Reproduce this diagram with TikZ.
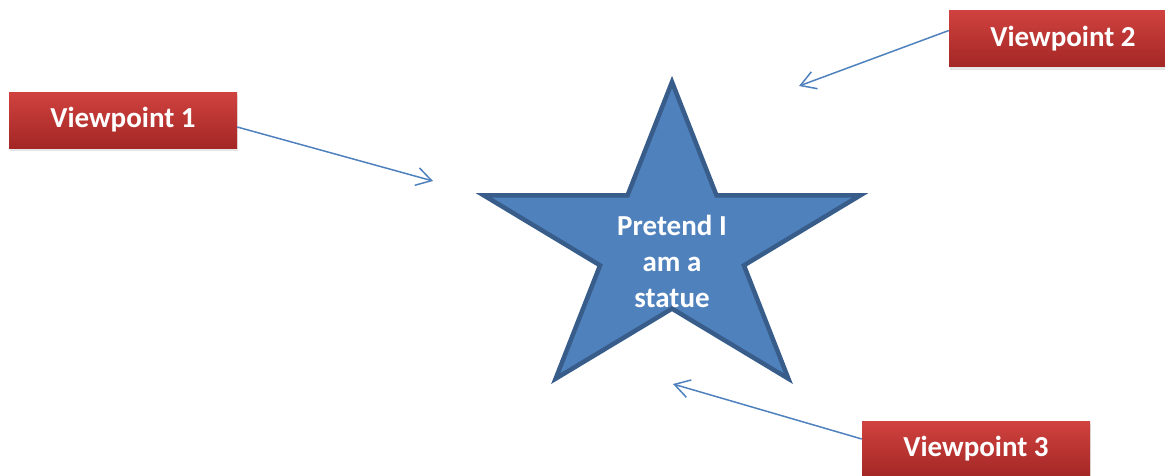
\documentclass[tikz,border=0pt]{standalone}
\usepackage{fontspec}
\setmainfont{Carlito}
\usetikzlibrary{arrows.meta,shadows}
\definecolor{boxtop}{RGB}{208,66,63}
\definecolor{boxbot}{RGB}{163,39,37}
\definecolor{starfill}{RGB}{79,129,189}
\definecolor{starline}{RGB}{56,93,138}
\colorlet{arrowblue}{starfill}
\begin{document}
\begin{tikzpicture}[x=1pt,y=-1pt,>={Straight Barb[length=15pt,width=18pt]},
  viewbox/.style={minimum width=228pt,minimum height=56pt,inner sep=0pt,
    top color=boxtop,bottom color=boxbot,text=white,
    font=\fontsize{29}{35}\selectfont\bfseries,
    drop shadow={opacity=0.2,shadow xshift=1pt,shadow yshift=-3pt}},
  viewarrow/.style={->,line width=1.5pt,arrowblue},
  startext/.style={text=white,align=center,font=\fontsize{29}{36}\selectfont\bfseries}]
\useasboundingbox (0,0) rectangle (1165,475);
% the statue
\draw[starline,fill=starfill,line width=4.5pt] (672,82)
  \foreach \i in {1,...,9}{ -- ({672+198*(1-0.618*mod(\i,2))*cos(90+36*\i)},{246-164*(1-0.618*mod(\i,2))*sin(90+36*\i)}) } -- cycle;
\node[startext] (statue) at (672,261) {Pretend I\\am a\\statue};
\node[viewbox] (vp1) at (123,120) {Viewpoint 1};
\node[viewbox] (vp2) at (1063,38.5) {Viewpoint 2};
\node[viewbox] (vp3) at (976,449) {Viewpoint 3};
\coordinate (tip1) at (433,181);
\coordinate (tip2) at (799,86);
\coordinate (tip3) at (673,384);
\draw[viewarrow] ([yshift=-7pt]vp1.east) -- (tip1);
\draw[viewarrow] ([yshift=8pt]vp2.west) -- (tip2);
\draw[viewarrow] ([yshift=10pt]vp3.west) -- (tip3);
\end{tikzpicture}
\end{document}
